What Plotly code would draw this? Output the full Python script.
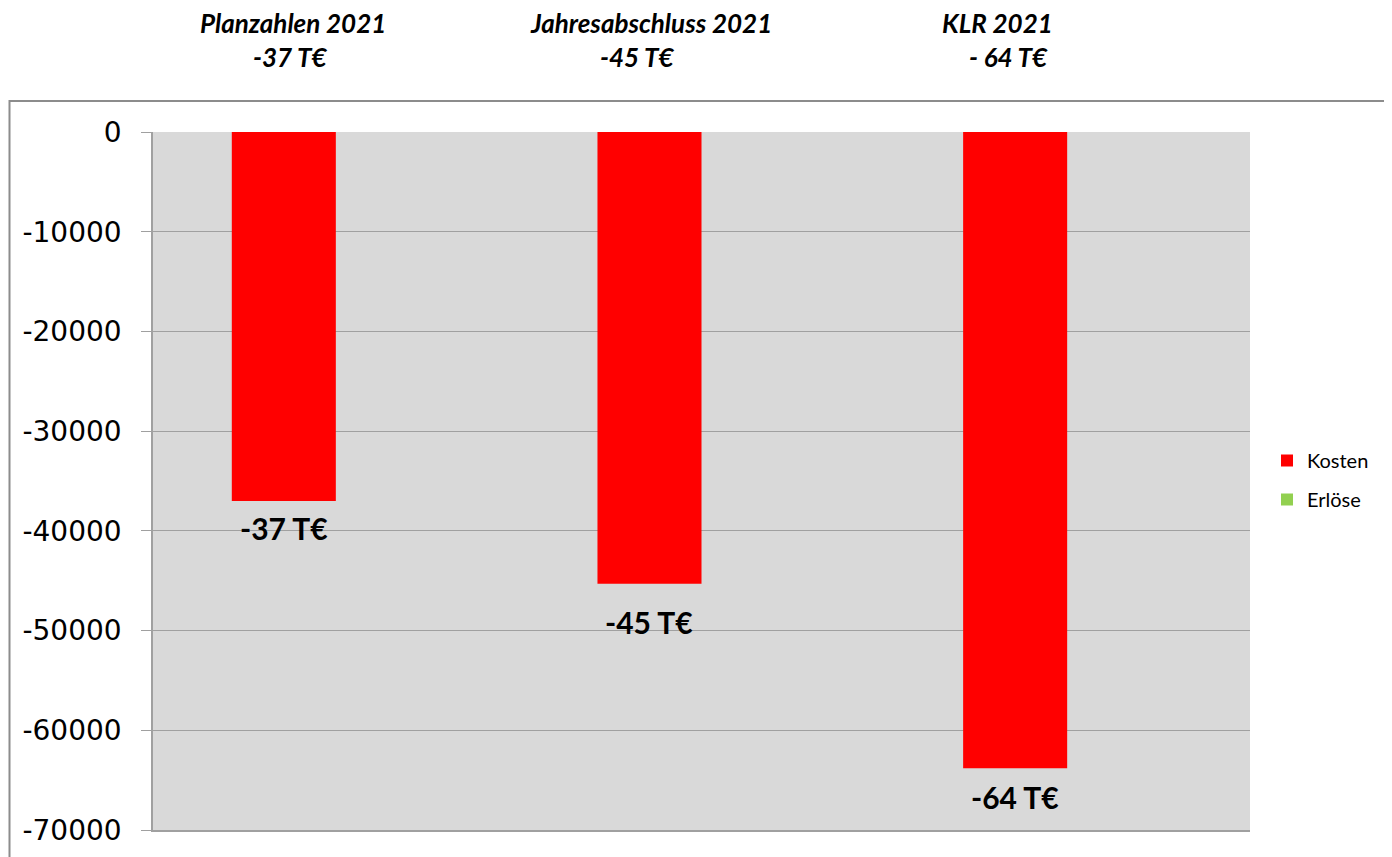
import plotly.graph_objects as go

categories = ["Planzahlen 2021", "Jahresabschluss 2021", "KLR 2021"]
header_values = ["-37 T€", "-45 T€", "- 64 T€"]
kosten = [-37000, -45300, -63800]
erloese = [0, 0, 0]
kosten_labels = ["-37 T€", "-45 T€", "-64 T€"]
y_ticks = [0, -10000, -20000, -30000, -40000, -50000, -60000, -70000]

# page renders with an 8px body margin; positions below are target pixel coords
OFF = 8
W, H = 1392, 857
L, R, T, B = 153 - OFF, 142 + OFF, 132 - OFF, 27 + OFF
pw = W - L - R
ph = H - T - B
BARGAP = 0.431
bar_px = pw / len(categories) * (1 - BARGAP) / 2
label_gap = [7, 18, 9]

def px_x(px):
    return (px - OFF - L) / pw

def px_y(py):
    return (H - B - (py - OFF)) / ph

fig = go.Figure()
fig.add_trace(go.Bar(
    x=categories, y=kosten, name="Kosten", legendgroup="k",
    marker=dict(color="#FF0000", line=dict(width=0)),
))
fig.add_trace(go.Bar(
    x=categories, y=erloese, name="Erlöse", legendgroup="e",
    marker=dict(color="#92D050", line=dict(width=0)),
))

annotations = []
for cat, v, lab, g in zip(categories, kosten, kosten_labels, label_gap):
    annotations.append(dict(
        text="<b>" + lab + "</b>", x=cat, y=v, xref="x", yref="y",
        showarrow=False, xanchor="center", yanchor="top",
        xshift=-bar_px / 2, yshift=-g,
        font=dict(family="Lato, Open Sans, sans-serif", size=30, color="#000000"),
    ))

title_x = [293, 651, 997]
value_x = [290, 637, 1008]
for cat, val, tx, vx in zip(categories, header_values, title_x, value_x):
    annotations.append(dict(
        text="<b><i>" + cat + "</i></b>", x=px_x(tx), y=px_y(23),
        xref="paper", yref="paper", showarrow=False, xanchor="center", yanchor="middle",
        font=dict(family="Lato, Open Sans, sans-serif", size=26, color="#000000"),
    ))
    annotations.append(dict(
        text="<b><i>" + val + "</i></b>", x=px_x(vx), y=px_y(57),
        xref="paper", yref="paper", showarrow=False, xanchor="center", yanchor="middle",
        font=dict(family="Lato, Open Sans, sans-serif", size=26, color="#000000"),
    ))

fig.update_layout(
    width=W, height=H,
    margin=dict(l=L, r=R, t=T, b=B, autoexpand=False),
    paper_bgcolor="#FFFFFF",
    plot_bgcolor="#D9D9D9",
    barmode="group",
    bargap=BARGAP,
    bargroupgap=0,
    showlegend=True,
    legend=dict(
        x=px_x(1267), y=px_y(441), xanchor="left", yanchor="top",
        font=dict(family="Lato, Open Sans, sans-serif", size=20, color="#000000"),
        tracegroupgap=10, itemsizing="constant",
        bgcolor="rgba(0,0,0,0)",
    ),
    annotations=annotations,
    shapes=[dict(
        type="rect", xref="paper", yref="paper",
        x0=px_x(9.5), x1=px_x(1386), y0=px_y(900), y1=px_y(101),
        line=dict(color="#8C8C8C", width=2), fillcolor="rgba(0,0,0,0)", layer="below",
    )],
    xaxis=dict(
        showticklabels=False, showgrid=False, zeroline=False,
        showline=True, linecolor="#A0A0A0", linewidth=1.5,
        ticks="", range=[-0.5, 2.5],
    ),
    yaxis=dict(
        range=[-70000, 0], tickvals=y_ticks,
        ticktext=[str(v) for v in y_ticks],
        tickfont=dict(family="DejaVu Sans, Verdana, sans-serif", size=28, color="#000000"),
        showgrid=True, gridcolor="#A0A0A0", gridwidth=1.2,
        zeroline=False, showline=True, linecolor="#A0A0A0", linewidth=1.5,
        ticks="outside", ticklen=10, tickcolor="#A0A0A0", tickwidth=1.2,
        ticklabelstandoff=14,
    ),
)

fig.write_html("out.html")
